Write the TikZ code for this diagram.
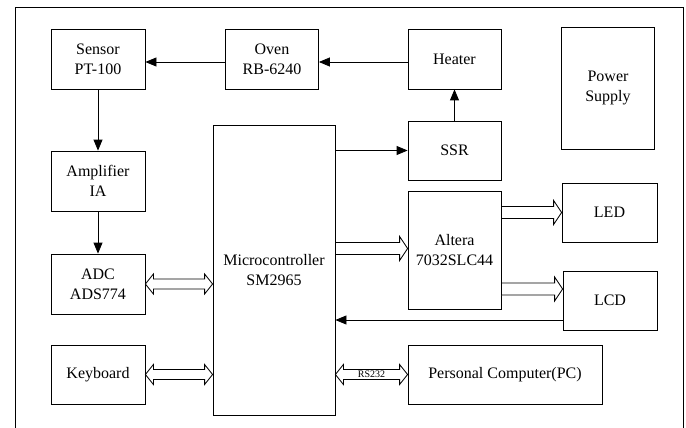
\documentclass[tikz,border=0pt]{standalone}
\usepackage{fontspec}
\setmainfont{Liberation Serif}
\usetikzlibrary{calc,arrows.meta}
\tikzset{
  box/.style={draw, line width=0.8pt, align=center, inner sep=0pt,
    font=\fontsize{16}{20}\selectfont},
  arr/.style={line width=0.8pt, -{Triangle[length=11pt,width=9pt]}},
  fat/.style={draw, line width=0.8pt, fill=white},
  frame/.style={line width=0.8pt},
  smalllab/.style={font=\fontsize{10}{11}\selectfont, inner sep=0pt}
}
\newcommand\sarrowR[2]{\path[fat] let \p1=(#1), \p2=(#2) in
  (\x1,\y1+6pt) -- (\x2-8pt,\y1+6pt) -- (\x2-8pt,\y1+12pt) -- (\x2,\y1)
  -- (\x2-8pt,\y1-12pt) -- (\x2-8pt,\y1-6pt) -- (\x1,\y1-6pt) -- cycle;}
\newcommand\darrowLR[2]{\path[fat] let \p1=(#1), \p2=(#2) in
  (\x1,\y1) -- (\x1+8pt,\y1+10pt) -- (\x1+8pt,\y1+5pt) -- (\x2-8pt,\y1+5pt)
  -- (\x2-8pt,\y1+10pt) -- (\x2,\y1) -- (\x2-8pt,\y1-10pt) -- (\x2-8pt,\y1-5pt)
  -- (\x1+8pt,\y1-5pt) -- (\x1+8pt,\y1-10pt) -- cycle;}
\begin{document}
\begin{tikzpicture}[x=1pt,y=-1pt]
\useasboundingbox (0,0) rectangle (686,428);
\draw[frame] (15,428) -- (15,7) -- (683,7) -- (683,428);

\node[box, minimum width=94pt, minimum height=60pt] (sensor) at (98,59) {Sensor\\PT-100};
\node[box, minimum width=93pt, minimum height=60pt] (oven) at (272,59) {Oven\\RB-6240};
\node[box, minimum width=93pt, minimum height=60pt] (heater) at (454.5,59) {Heater};
\node[box, minimum width=93pt, minimum height=122pt] (power) at (608,88) {Power\\Supply};
\node[box, minimum width=93pt, minimum height=59pt] (ssr) at (454.5,150.5) {SSR};
\node[box, minimum width=122pt, minimum height=290pt] (micro) at (274,270) {Microcontroller\\SM2965};
\node[box, minimum width=94pt, minimum height=60pt] (amp) at (98,181) {Amplifier\\IA};
\node[box, minimum width=94pt, minimum height=60pt] (adc) at (98,284) {ADC\\ADS774};
\node[box, minimum width=94pt, minimum height=59pt] (kbd) at (98,374.5) {Keyboard};
\node[box, minimum width=93pt, minimum height=118pt] (altera) at (454.5,250.5) {Altera\\7032SLC44};
\node[box, minimum width=95pt, minimum height=59pt] (led) at (609.5,212.5) {LED};
\node[box, minimum width=94pt, minimum height=59pt] (lcd) at (610,300.5) {LCD};
\node[box, minimum width=194pt, minimum height=59pt] (pc) at (505,374.5) {Personal Computer(PC)};

\draw[arr] ([yshift=-3pt]heater.west) -- ([yshift=-3pt]oven.east);
\draw[arr] ([yshift=-3pt]oven.west) -- ([yshift=-3pt]sensor.east);
\draw[arr] (sensor.south) -- (amp.north);
\draw[arr] (amp.south) -- (adc.north);
\draw[arr] (ssr.north) -- (heater.south);
\draw[arr] (micro.east |- ssr.west) -- (ssr.west);
\coordinate (lcdout) at ([yshift=-19.5pt]lcd.west);
\draw[arr] (lcdout) -- (lcdout -| micro.east);

\darrowLR{adc.east}{adc.east -| micro.west}
\darrowLR{kbd.east}{kbd.east -| micro.west}
\sarrowR{[yshift=2pt]altera.west -| micro.east}{[yshift=2pt]altera.west}
\sarrowR{led.west -| altera.east}{led.west}
\coordinate (lcdin) at ([yshift=11.5pt]lcd.west);
\sarrowR{lcdin -| altera.east}{lcdin}
\darrowLR{pc.west -| micro.east}{pc.west}
\node[smalllab] (rs) at ($(pc.west -| micro.east)!0.5!(pc.west)$) {RS232};
\end{tikzpicture}
\end{document}
